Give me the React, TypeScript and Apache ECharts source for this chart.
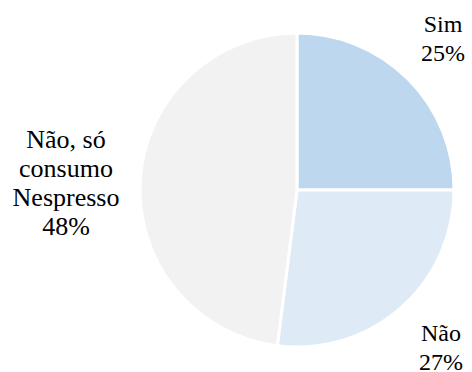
import React, { useEffect, useRef } from "react";
import * as echarts from "echarts";

const categories = ["Sim", "Não", "Não, só consumo Nespresso"];
const labelLines = [["Sim"], ["Não"], ["Não, só", "consumo", "Nespresso"]];
const values = [25, 27, 48];
const colors = ["#BDD7EE", "#DEEBF7", "#F2F2F2"];

const FONT = "Times New Roman";

export default function App() {
  const ref = useRef<HTMLDivElement>(null);
  useEffect(() => {
    if (!ref.current) return;
    const chart = echarts.init(ref.current, null, { renderer: "svg" });
    const labelPos = [
      { x: 443, y: 38 },
      { x: 441, y: 347 },
      { x: 66, y: 183 },
    ];
    const labelSize = [24, 24, 26];
    chart.setOption({
      animation: false,
      backgroundColor: "#ffffff",
      textStyle: { fontFamily: FONT },
      series: [
        {
          type: "pie",
          center: [297, 190],
          radius: [0, 157],
          startAngle: 90,
          clockwise: true,
          avoidLabelOverlap: false,
          data: categories.map((c, i) => ({
            name: c,
            value: values[i],
            itemStyle: { color: colors[i] },
            label: { fontSize: labelSize[i] },
          })),
          itemStyle: { borderColor: "#ffffff", borderWidth: 3 },
          label: {
            show: true,
            position: "outside",
            formatter: (p: any) =>
              labelLines[p.dataIndex].join("\n") + "\n" + p.value + "%",
            fontFamily: FONT,
            fontSize: 24,
            lineHeight: 29,
            color: "#000000",
            align: "center",
            verticalAlign: "middle",
            overflow: "none",
            width: 200,
          },
          labelLine: { show: false },
          labelLayout: (p: any) => ({
            x: labelPos[p.dataIndex].x,
            y: labelPos[p.dataIndex].y,
            align: "center",
            verticalAlign: "middle",
            hideOverlap: false,
            moveOverlap: null,
          }),
        },
      ],
    });
    return () => chart.dispose();
  }, []);
  return <div ref={ref} style={{ width: 472, height: 372, position: "absolute", left: 0, top: 0 }} />;
}
